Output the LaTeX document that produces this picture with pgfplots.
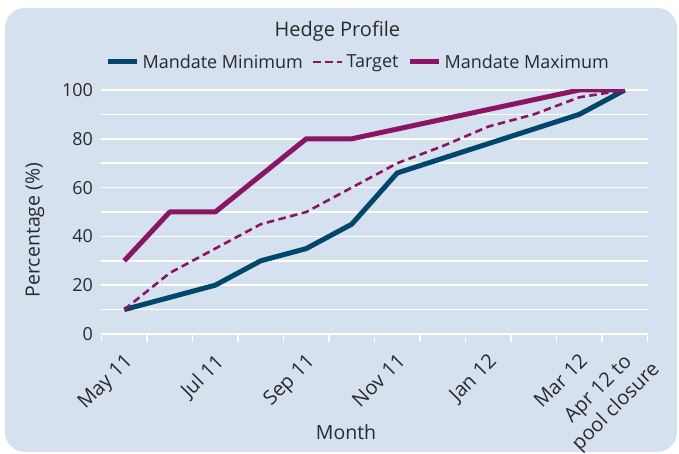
\documentclass[border=0pt]{standalone}
\usepackage{pgfplots}
\pgfplotsset{compat=1.18}
\usepackage{fontspec}
\setmainfont{Open Sans}
\definecolor{bg}{HTML}{D5E1EF}
\definecolor{mincol}{HTML}{00476B}
\definecolor{maxcol}{HTML}{8A1565}
\definecolor{txt}{HTML}{2A2A2A}
\newcommand{\fs}{\fontsize{18}{22}\selectfont}
\newcommand{\fx}{\fontsize{20}{25}\selectfont}
\newcommand{\fl}{\fontsize{19.5}{23}\selectfont}
\begin{document}
\begin{tikzpicture}
\useasboundingbox (-101.5pt,-120pt) rectangle (577.5pt,334pt);
\fill[bg, rounded corners=20pt] (-96.5pt,-118pt) rectangle (575.5pt,326pt);
\begin{axis}[
  at={(0pt,0pt)}, anchor=south west,
  scale only axis, width=546pt, height=244pt,
  xmin=0, xmax=12, ymin=0, ymax=100,
  axis line style={draw=none},
  xtick={0.5,2.5,4.5,6.5,8.5,10.5},
  xticklabels={May 11,Jul 11,Sep 11,Nov 11,Jan 12,Mar 12},
  extra x ticks={11.5},
  extra x tick labels={{Apr 12 to\\pool closure}},
  extra x tick style={xticklabel style={align=center, xshift=13pt, yshift=0.7pt}},
  minor xtick={0,1,...,12},
  ytick={0,10,...,100},
  yticklabels={0,,20,,40,,60,,80,,100},
  major tick length=0pt,
  minor tick length=8pt,
  tick align=outside,
  xtick pos=bottom, ytick pos=left,
  tick style={white, line width=1.5pt},
  ymajorgrids,
  grid style={white, line width=1.5pt},
  yticklabel style={font=\fs, text=txt, xshift=-5pt},
  xticklabel style={font=\fx, text=txt, inner sep=0pt, xshift=-1pt, yshift=-18pt, rotate=45, anchor=north east},
  title={Hedge Profile},
  title style={at={(axis description cs:0.432,1.217)}, anchor=center, font=\fontsize{20}{24}\selectfont, text=txt},
  xlabel={Month},
  xlabel style={at={(axis description cs:0.4478,-0.4016)}, anchor=center, font=\fl, text=txt},
  ylabel={Percentage (\%)},
  ylabel style={at={(axis description cs:-0.1218,0.426)}, anchor=center, font=\fl, text=txt},
  legend style={at={(axis description cs:0.471,1.115)}, anchor=center, draw=none, fill=none,
    legend columns=-1, font=\fs, text=txt, nodes={inner sep=3pt},
    /tikz/every even column/.append style={column sep=6pt}},
  legend image code/.code={\draw[#1, line cap=butt] (0pt,0pt) -- (29pt,0pt);},
  every axis plot/.append style={line join=round},
]
\addplot[mincol, line width=5pt] coordinates {
(0.5,10) (1.5,15) (2.5,20) (3.5,30) (4.5,35) (5.5,45) (6.5,66) (7.5,72) (8.5,78) (9.5,84) (10.5,90) (11.5,100)};
\addlegendentry{Mandate Minimum}
\addplot[maxcol, line width=2.6pt, dash pattern=on 7.5pt off 4.5pt] coordinates {
(0.5,10) (1.5,25) (2.5,35) (3.5,45) (4.5,50) (5.5,60) (6.5,70) (7.5,77) (8.5,85) (9.5,90) (10.5,97) (11.5,100)};
\addlegendentry{Target}
\addplot[maxcol, line width=5pt] coordinates {
(0.5,30) (1.5,50) (2.5,50) (3.5,65) (4.5,80) (5.5,80) (6.5,84) (7.5,88) (8.5,92) (9.5,96) (10.5,100) (11.5,100)};
\addlegendentry{Mandate Maximum}
\end{axis}
\end{tikzpicture}
\end{document}
